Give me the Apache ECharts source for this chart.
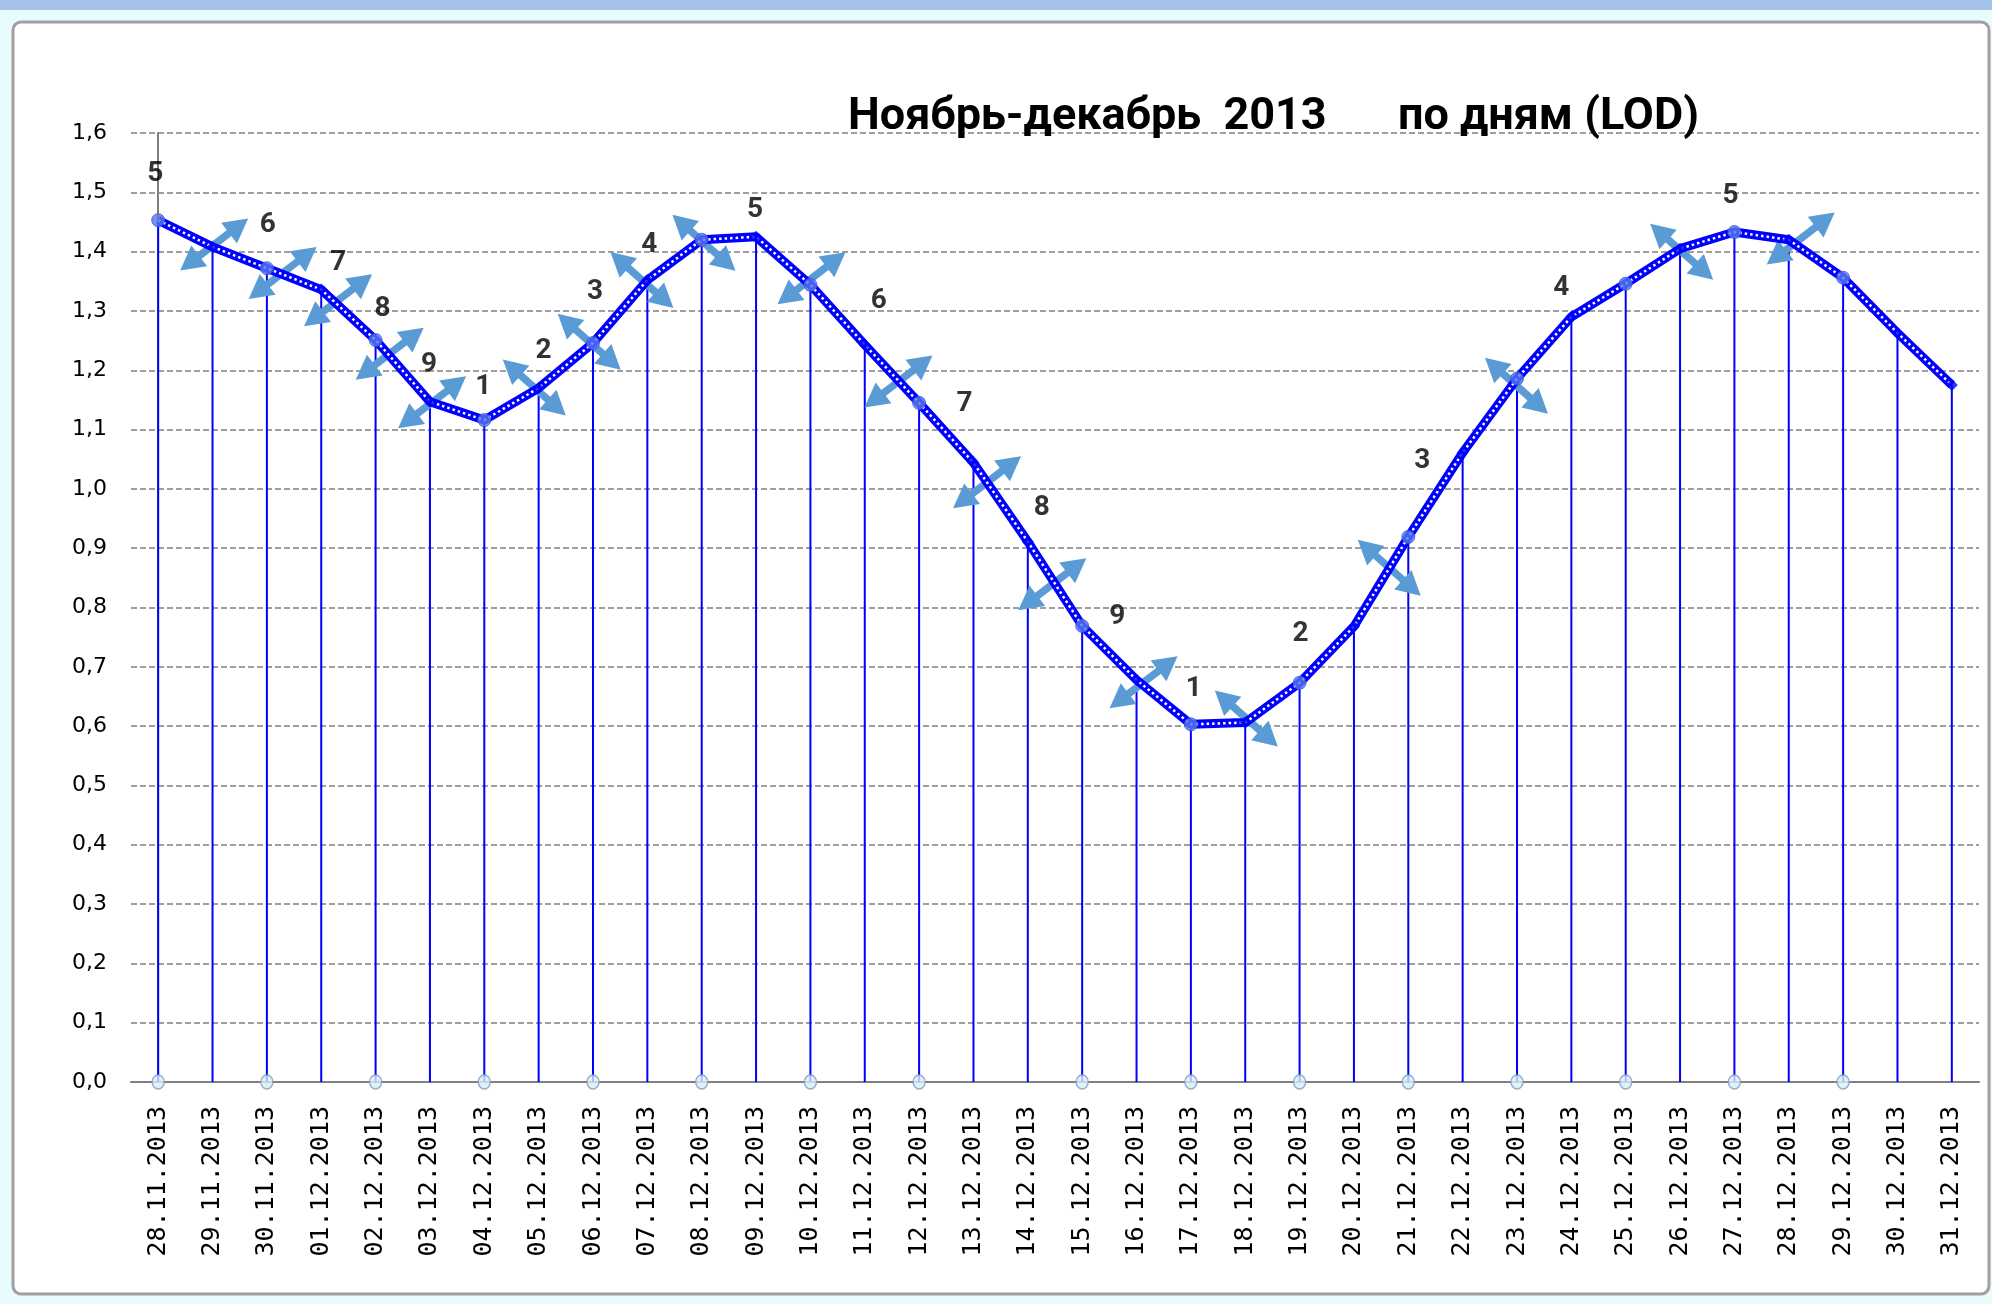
<!DOCTYPE html>
<html>
<head>
<meta charset="utf-8">
<script src="https://cdn.jsdelivr.net/npm/echarts@6/dist/echarts.min.js"></script>
<style>
html,body{margin:0;padding:0;background:#e8fcfe;}
#chart{width:1992px;height:1304px;}
</style>
</head>
<body>
<div id="chart"></div>
<script>
// ---------- DATA ----------
const categories = [
  '28.11.2013','29.11.2013','30.11.2013','01.12.2013','02.12.2013','03.12.2013','04.12.2013',
  '05.12.2013','06.12.2013','07.12.2013','08.12.2013','09.12.2013','10.12.2013','11.12.2013',
  '12.12.2013','13.12.2013','14.12.2013','15.12.2013','16.12.2013','17.12.2013','18.12.2013',
  '19.12.2013','20.12.2013','21.12.2013','22.12.2013','23.12.2013','24.12.2013','25.12.2013',
  '26.12.2013','27.12.2013','28.12.2013','29.12.2013','30.12.2013','31.12.2013'
];
const lodValues = [
  1.453, 1.408, 1.372, 1.336, 1.251, 1.147, 1.116, 1.170, 1.246, 1.352, 1.420, 1.425,
  1.344, 1.243, 1.145, 1.044, 0.911, 0.769, 0.678, 0.603, 0.606, 0.673, 0.768, 0.919,
  1.061, 1.186, 1.290, 1.346, 1.405, 1.433, 1.420, 1.356, 1.263, 1.175
];
const phaseLabels = [
  '5','','6','7','8','9','1','2','3','4','','5','','6','','7','8','9','','1','',
  '2','','3','','','4','','','5','','','',''
];
const circleFlags = [
  1,0,1,0,1,0,1,0,1,0,1,0,1,0,1,0,0,1,0,1,0,1,0,1,0,1,0,1,0,1,0,1,0,0
];
// arrow annotations: position in data space (category index, value) and direction (1 = "/", -1 = "\")
const arrowX   = [1.03, 2.29, 3.31, 4.26, 5.04, 6.92, 7.93, 8.90, 10.04, 12.02, 13.62, 15.25, 16.45, 18.13, 20.02, 22.65, 24.99, 28.03, 30.22];
const arrowY   = [1.412, 1.364, 1.318, 1.228, 1.146, 1.171, 1.248, 1.352, 1.415, 1.355, 1.181, 1.011, 0.839, 0.674, 0.613, 0.867, 1.174, 1.400, 1.422];
const arrowDir = [1, 1, 1, 1, 1, -1, -1, -1, -1, 1, 1, 1, 1, 1, -1, -1, -1, -1, 1];
const yTicks = { min: 0, max: 1.6, interval: 0.1 };

// ---------- LABEL PLACEMENT (style) ----------
const labelOffsets = {
  0:[-3,-46], 2:[1,-43], 3:[17,-27], 4:[7,-31], 5:[-1,-37], 6:[-1,-33], 7:[5,-37],
  8:[2,-51], 9:[2,-35], 11:[-1,-27], 13:[14,-44], 15:[-9,-59], 16:[14,-34], 17:[35,-9],
  19:[3,-35], 21:[1,-49], 23:[14,-76], 26:[-10,-29], 29:[-4,-36]
};

const chart = echarts.init(document.getElementById('chart'));

const markerData = lodValues.map((v, i) => circleFlags[i]
  ? { value: v, symbol: 'circle', symbolSize: 13, itemStyle: { color: '#5577ee', borderColor: '#3a55d0', borderWidth: 1 } }
  : { value: v, symbol: 'diamond', symbolSize: 12, itemStyle: { color: '#0000ff' } });

const bottomData = circleFlags.map(f => f ? 0 : '-');

const labelData = [];
lodValues.forEach((v, i) => {
  if (phaseLabels[i]) {
    labelData.push({ value: [i, v], txt: phaseLabels[i], label: { offset: labelOffsets[i] || [0, -35] } });
  }
});

const arrowData = arrowX.map((x, i) => [x, arrowY[i], arrowDir[i]]);

function renderArrow(params, api) {
  const c = api.coord([api.value(0), api.value(1)]);
  const d = api.value(2);
  const hx = d > 0 ? 34 : 31.5;
  const hy = d > 0 ? -26 : 28;
  const len = Math.sqrt(hx * hx + hy * hy);
  const ux = hx / len, uy = hy / len;
  const nx = -uy, ny = ux;
  const H = 24, W = 13;
  const p1 = [c[0] - hx, c[1] - hy];
  const p2 = [c[0] + hx, c[1] + hy];
  const col = '#5b9bd5';
  return {
    type: 'group',
    children: [
      { type: 'line', shape: { x1: p1[0] + ux * H * 0.8, y1: p1[1] + uy * H * 0.8, x2: p2[0] - ux * H * 0.8, y2: p2[1] - uy * H * 0.8 },
        style: { stroke: col, lineWidth: 7.5 } },
      { type: 'polygon', shape: { points: [p2, [p2[0] - ux * H + nx * W, p2[1] - uy * H + ny * W], [p2[0] - ux * H - nx * W, p2[1] - uy * H - ny * W]] },
        style: { fill: col } },
      { type: 'polygon', shape: { points: [p1, [p1[0] + ux * H + nx * W, p1[1] + uy * H + ny * W], [p1[0] + ux * H - nx * W, p1[1] + uy * H - ny * W]] },
        style: { fill: col } }
    ]
  };
}

const titleStyle = { fontFamily: 'Roboto', fontWeight: 'bold', fontSize: 45, color: '#000' };

const option = {
  animation: false,
  backgroundColor: '#e8fcfe',
  graphic: [
    { type: 'rect', z: -10, shape: { x: 0, y: 0, width: 1992, height: 10 }, style: { fill: '#a5c3ea' } },
    { type: 'rect', z: -9, shape: { x: 13, y: 22, width: 1976, height: 1272, r: 8 }, style: { fill: '#ffffff', stroke: '#a0a0a0', lineWidth: 3 } }
  ],
  title: [
    { text: 'Ноябрь-декабрь  2013', left: 843, top: 90, textStyle: titleStyle },
    { text: 'по дням (LOD)', left: 1393, top: 90, textStyle: titleStyle }
  ],
  grid: { left: 131, right: 13, top: 133, bottom: 222, containLabel: false },
  xAxis: [
    {
      type: 'category', data: categories, boundaryGap: true,
      axisLine: { lineStyle: { color: '#808080', width: 2 } },
      axisTick: { show: false },
      axisLabel: { interval: 0, rotate: 90, margin: 24, fontFamily: 'DejaVu Sans Mono', fontSize: 25, color: '#000' },
      splitLine: { show: false }
    },
    { type: 'value', min: -0.5, max: 33.5, show: false }
  ],
  yAxis: {
    type: 'value', min: yTicks.min, max: yTicks.max, interval: yTicks.interval,
    axisLine: { show: true, lineStyle: { color: '#808080', width: 2 } },
    axisTick: { show: false },
    axisLabel: { margin: 24, fontFamily: 'DejaVu Sans', fontSize: 22, color: '#000',
      formatter: v => v.toFixed(1).replace('.', ',') },
    splitLine: { show: true, lineStyle: { color: '#808080', width: 1.5, type: [6, 3] } }
  },
  series: [
    { type: 'bar', data: lodValues, barWidth: 2, itemStyle: { color: '#0000ff' }, z: 2, silent: true },
    { type: 'custom', xAxisIndex: 1, yAxisIndex: 0, data: arrowData, renderItem: renderArrow, z: 3, silent: true },
    { type: 'line', data: lodValues, symbol: 'none', lineStyle: { color: '#0000ff', width: 9 }, z: 4, silent: true },
    { type: 'line', data: lodValues, symbol: 'none', lineStyle: { color: '#ffffff', width: 2.5, type: [2.5, 3] }, z: 5, silent: true },
    { type: 'scatter', data: markerData, z: 6, silent: true },
    { type: 'scatter', data: bottomData, symbol: 'circle', symbolSize: [12, 14],
      itemStyle: { color: '#d8eef8', borderColor: '#7d9cc0', borderWidth: 1.5 }, z: 6, silent: true },
    { type: 'scatter', data: labelData, symbol: 'circle', symbolSize: 2,
      itemStyle: { color: 'rgba(0,0,0,0)' }, z: 7, silent: true,
      label: { show: true, position: 'inside', formatter: p => p.data.txt,
        fontFamily: 'Roboto', fontWeight: 'bold', fontSize: 28, color: '#000' } }
  ]
};
chart.setOption(option);
</script>
</body>
</html>
